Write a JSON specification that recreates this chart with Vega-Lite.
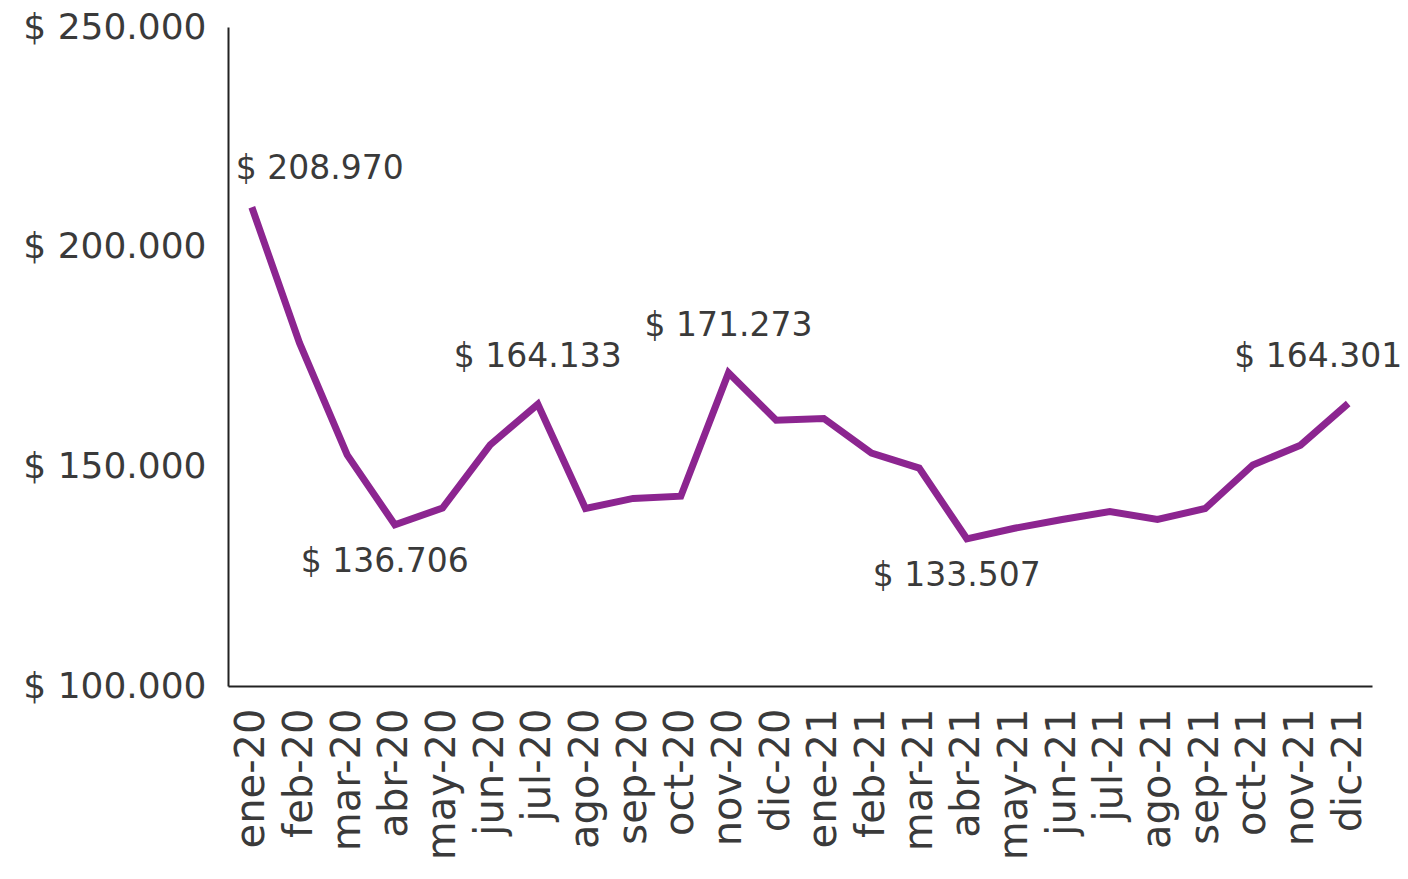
{
  "$schema": "https://vega.github.io/schema/vega-lite/v6.json",
  "autosize": "none",
  "padding": {"left": 228, "top": 27, "right": 36, "bottom": 193},
  "width": 1144,
  "height": 659,
  "background": "white",
  "config": {
    "view": {"stroke": null},
    "locale": {
      "number": {"decimal": ",", "thousands": ".", "grouping": [3], "currency": ["$ ", ""]}
    },
    "font": "DejaVu Sans"
  },
  "data": {
    "values": [
      {"mes": "ene-20", "valor": 208970, "tipo": "inicio"},
      {"mes": "feb-20", "valor": 178100, "tipo": null},
      {"mes": "mar-20", "valor": 152600, "tipo": null},
      {"mes": "abr-20", "valor": 136706, "tipo": "valle"},
      {"mes": "may-20", "valor": 140500, "tipo": null},
      {"mes": "jun-20", "valor": 154900, "tipo": null},
      {"mes": "jul-20", "valor": 164133, "tipo": "pico"},
      {"mes": "ago-20", "valor": 140400, "tipo": null},
      {"mes": "sep-20", "valor": 142700, "tipo": null},
      {"mes": "oct-20", "valor": 143200, "tipo": null},
      {"mes": "nov-20", "valor": 171273, "tipo": "pico"},
      {"mes": "dic-20", "valor": 160500, "tipo": null},
      {"mes": "ene-21", "valor": 160900, "tipo": null},
      {"mes": "feb-21", "valor": 153000, "tipo": null},
      {"mes": "mar-21", "valor": 149600, "tipo": null},
      {"mes": "abr-21", "valor": 133507, "tipo": "valle"},
      {"mes": "may-21", "valor": 135900, "tipo": null},
      {"mes": "jun-21", "valor": 137900, "tipo": null},
      {"mes": "jul-21", "valor": 139700, "tipo": null},
      {"mes": "ago-21", "valor": 137900, "tipo": null},
      {"mes": "sep-21", "valor": 140400, "tipo": null},
      {"mes": "oct-21", "valor": 150300, "tipo": null},
      {"mes": "nov-21", "valor": 154800, "tipo": null},
      {"mes": "dic-21", "valor": 164301, "tipo": "fin"}
    ]
  },
  "encoding": {
    "x": {
      "field": "mes",
      "type": "ordinal",
      "sort": null,
      "scale": {"type": "point", "padding": 0.5},
      "axis": {
        "title": null,
        "labelAngle": -90,
        "labelFontSize": 40,
        "labelColor": "#3a3a3a",
        "labelPadding": 22,
        "labelLimit": 0,
        "ticks": false,
        "domainColor": "#222222",
        "domainWidth": 2,
        "grid": false
      }
    },
    "y": {
      "field": "valor",
      "type": "quantitative",
      "scale": {"domain": [100000, 250000], "nice": false, "zero": false},
      "axis": {
        "title": null,
        "values": [100000, 150000, 200000, 250000],
        "format": "$,.0f",
        "labelFontSize": 36,
        "labelColor": "#3a3a3a",
        "labelPadding": 22,
        "labelLimit": 0,
        "ticks": false,
        "domainColor": "#222222",
        "domainWidth": 2,
        "grid": false
      }
    }
  },
  "layer": [
    {
      "mark": {"type": "line", "color": "#8C2590", "strokeWidth": 7, "strokeJoin": "miter", "strokeCap": "butt"}
    },
    {
      "transform": [{"filter": "datum.tipo === 'inicio'"}],
      "mark": {"type": "text", "align": "left", "baseline": "middle", "dx": -16, "dy": -38, "fontSize": 33, "color": "#3a3a3a"},
      "encoding": {"text": {"field": "valor", "type": "quantitative", "format": "$,.0f"}}
    },
    {
      "transform": [{"filter": "datum.tipo === 'pico'"}],
      "mark": {"type": "text", "align": "center", "baseline": "middle", "dy": -47, "fontSize": 33, "color": "#3a3a3a"},
      "encoding": {"text": {"field": "valor", "type": "quantitative", "format": "$,.0f"}}
    },
    {
      "transform": [{"filter": "datum.tipo === 'valle'"}],
      "mark": {"type": "text", "align": "center", "baseline": "middle", "dx": -10, "dy": 37, "fontSize": 33, "color": "#3a3a3a"},
      "encoding": {"text": {"field": "valor", "type": "quantitative", "format": "$,.0f"}}
    },
    {
      "transform": [{"filter": "datum.tipo === 'fin'"}],
      "mark": {"type": "text", "align": "right", "baseline": "middle", "dx": 54, "dy": -47, "fontSize": 33, "color": "#3a3a3a"},
      "encoding": {"text": {"field": "valor", "type": "quantitative", "format": "$,.0f"}}
    }
  ]
}
